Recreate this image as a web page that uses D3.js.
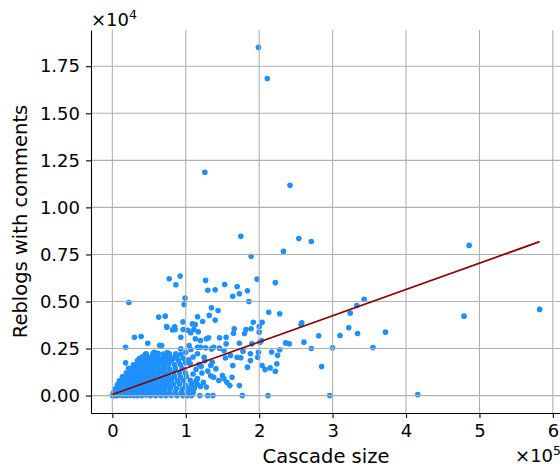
<!DOCTYPE html>
<html>
<head>
<meta charset="utf-8">
<script src="https://cdn.jsdelivr.net/npm/d3@7"></script>
<style>
  body { margin: 0; background: #fff; }
  svg { display: block; font-family: "DejaVu Sans", sans-serif; }
</style>
</head>
<body>
<svg id="chart"></svg>
<script>
// cascade size (x) and number of reblogs with comments (y), one entry per post
const cascadeSize = [
  0, 2500, 6000, 10000, 14000, 19000, 24000, 29000, 34000, 40000, 46000, 52000, 59000, 66000, 73000, 80000, 88000, 96000, 102000, 108000, 119000, 130000, 137000, 177000, 212000,
  1400, 5400, 10900, 16300, 21800, 27200, 32700, 38100, 43500, 50300, 57100, 63900, 70700, 77500, 85700, 93900, 102000, 110200,
  4100, 8200, 13600, 19000, 24500, 29900, 35400, 40800, 46300, 51700, 58500, 65300, 72100, 78900, 87100, 95200, 103400, 111600,
  6800, 12200, 17700, 23100, 28600, 34000, 39500, 44900, 50300, 55800, 62600, 69400, 76200, 83000, 91200, 99300, 107500, 115600,
  9500, 15000, 20400, 25800, 31300, 36700, 42200, 47600, 53100, 59900, 66700, 73500, 80300, 88400, 96600, 106100, 114300,
  13600, 19000, 24500, 29900, 35400, 40800, 46300, 51700, 57100, 63900, 70700, 77500, 84400, 92500, 100700,
  19000, 24500, 29900, 35400, 40800, 46300, 51700, 57100, 62600, 69400, 76200, 83000, 91200, 99300,
  24500, 29900, 35400, 40800, 46300, 51700, 57100, 63900, 70700, 77500, 85700, 95200,
  28600, 34000, 39500, 44900, 50300, 55800, 62600, 69400, 76200, 84400, 92500,
  34000, 39500, 44900, 51700, 58500, 65300, 72100, 80300, 89800,
  36700, 49000, 62600, 76200, 83000, 96600,
  40800, 47600, 54400, 61200, 69400, 77500, 87100,
  44900, 58500, 72100, 85700,
  57100, 74800, 55400, 62200, 69000, 64500,
  77500, 92300, 86500, 22500, 99000, 97700, 72000, 63100, 85500, 96400, 93200, 74300, 106700, 30100, 39200, 18000,
  48200, 67200, 93200, 104500, 120000, 77400, 86500, 93200, 18000, 22000, 45900, 73900, 82000, 84900, 96200, 103000,
  108000, 112000, 116000, 110000, 120000, 114000, 118000, 106000, 122000, 124000,
  104000, 110000, 100000, 107000, 126000, 130000, 128000, 134000, 121000, 100000,
  127000, 153000, 197000, 222000, 170000, 130000, 140000, 184000, 164000, 173000,
  186000, 213000, 228000, 135000, 144000, 132000, 140000, 123000, 116000, 109000,
  113000, 117000, 111000, 192000, 204000, 182000, 189000, 166000, 165000, 180000,
  200000, 200000, 131000, 128000, 146000, 155000, 173000, 190000, 155000, 201000,
  203000, 236000, 241000, 228000, 217000, 225000, 224000, 215000, 222000, 208000,
  204000, 198000, 199000, 188000, 188000, 178000, 175000, 184000, 164000, 170000,
  161000, 154000, 163000, 173000, 156000, 160000, 150000, 152000, 145000, 138000,
  141000, 134000, 136000, 125000, 116000, 152000, 135000, 127000, 116000, 138000,
  146000, 120000, 113000,
  199000, 211000, 126000, 242000, 175000, 189000, 254000, 271000, 233000, 486000, 479000, 582000, 416000, 296000, 343000,
  333000, 324000, 322000, 334000, 372000, 310000, 281000, 261000, 271000, 300000, 355000, 285000, 258000, 257000
]
const reblogsWithComments = [
  0, 0, 0, 20, 0, 0, 10, 0, 0, 0, 30, 0, 0, 0, 0, 10, 0, 0, 0, 0, 0, 0, 0, 0, 0,
  150, 180, 130, 170, 160, 190, 140, 175, 155, 165, 185, 150, 170, 145, 180, 160, 175, 190,
  360, 390, 350, 380, 400, 370, 355, 385, 365, 395, 345, 375, 390, 360, 380, 350, 370, 385,
  570, 600, 590, 560, 610, 580, 595, 570, 605, 585, 560, 600, 575, 590, 610, 565, 580, 600,
  790, 810, 780, 820, 800, 775, 815, 795, 805, 785, 820, 790, 810, 780, 800, 815, 795,
  1000, 1020, 990, 1030, 1010, 995, 1025, 1005, 1015, 990, 1030, 1000, 1020, 995, 1010,
  1210, 1240, 1220, 1200, 1235, 1215, 1245, 1225, 1205, 1230, 1215, 1240, 1220, 1210,
  1430, 1450, 1420, 1440, 1460, 1425, 1445, 1430, 1455, 1420, 1440, 1450,
  1640, 1660, 1630, 1655, 1645, 1670, 1635, 1650, 1665, 1640, 1655,
  1850, 1870, 1860, 1880, 1845, 1865, 1875, 1850, 1870,
  1970, 1960, 1985, 1975, 1965, 1980,
  2060, 2080, 2070, 2090, 2065, 2085, 2075,
  2180, 2170, 2190, 2160,
  2300, 2290, 2230, 2250, 2210, 2675,
  6210, 6350, 5890, 4950, 5180, 4840, 4220, 4170, 3510, 3510, 3100, 3630, 3340, 3100, 3140, 2570,
  2780, 2660, 2480, 2660, 2570, 2220, 2220, 2180, 1740, 1450, 2220, 3670, 3490, 3650, 3915, 3470,
  300, 620, 900, 1150, 480, 1400, 1650, 1700, 1200, 700,
  1900, 2050, 2300, 2450, 1850, 1300, 450, 1050, 1550, 1750,
  6120, 5900, 6190, 6000, 5800, 5600, 5620, 5570, 5280, 5410,
  5000, 4430, 4350, 4670, 4520, 4260, 4010, 3940, 4190, 3810,
  3780, 3390, 3510, 3900, 3900, 3510, 3550, 3550, 3310, 3300,
  3670, 3370, 3070, 3020, 3070, 3100, 2780, 2750, 2750, 2840,
  2930, 2800, 2750, 2430, 2320, 2140, 1690, 1470, 1290, 1380,
  1600, 2040, 2300, 1860, 2220, 2360, 2010, 1510, 1600, 2040,
  2130, 2000, 975, 530, 710, 530, 1060, 890, 800, 975,
  1420, 1600, 1770, 2040, 2220, 2390, 2480, 2540, 2570, 2570,
  2520, 2930, 3020,
  18500, 16850, 11870, 11170, 8460, 7400, 8350, 8190, 7660, 7980, 4220, 4580, 50, 0, 5110,
  4790, 4380, 3600, 3300, 3370, 3190, 3180, 2840, 2500, 2540, 2550, 1540, 3870, 3780
]

// least squares fit as drawn in the figure
const fitSlope = 0.01395
const fitIntercept = 60

const xTicks = [0, 100000, 200000, 300000, 400000, 500000, 600000]
const yTicks = [0, 2500, 5000, 7500, 10000, 12500, 15000, 17500]

const width = 560, height = 472
const plot = {left: 91, right: 561, top: 30, bottom: 413}

const points = d3.zip(cascadeSize, reblogsWithComments)

// matplotlib style 5% margins
const xExt = d3.extent(cascadeSize), yExt = d3.extent(reblogsWithComments)
const xPad = (xExt[1] - xExt[0]) * 0.05, yPad = (yExt[1] - yExt[0]) * 0.05
const xScale = d3.scaleLinear().domain([xExt[0] - xPad, xExt[1] + xPad]).range([plot.left, plot.right])
const yScale = d3.scaleLinear().domain([yExt[0] - yPad, yExt[1] + yPad]).range([plot.bottom, plot.top])

const svg = d3.select("#chart").attr("width", width).attr("height", height)

svg.append("clipPath").attr("id", "clip")
  .append("rect").attr("x", plot.left).attr("y", plot.top)
  .attr("width", plot.right - plot.left).attr("height", plot.bottom - plot.top)

// scatter
svg.append("g").attr("clip-path", "url(#clip)")
  .selectAll("circle")
  .data(points)
  .join("circle")
  .attr("cx", d => xScale(d[0]))
  .attr("cy", d => yScale(d[1]))
  .attr("r", 2.8)
  .attr("fill", "#1e90ff")

// grid (drawn over the dots, like the original)
const grid = svg.append("g").attr("stroke", "#b0b0b0").attr("stroke-width", 1.1)
grid.selectAll(".vgrid").data(xTicks).join("line").attr("class", "vgrid")
  .attr("x1", d => xScale(d)).attr("x2", d => xScale(d))
  .attr("y1", plot.top).attr("y2", plot.bottom)
grid.selectAll(".hgrid").data(yTicks).join("line").attr("class", "hgrid")
  .attr("x1", plot.left).attr("x2", plot.right)
  .attr("y1", d => yScale(d)).attr("y2", d => yScale(d))

// regression line
const fitLine = d3.line().x(d => xScale(d)).y(d => yScale(fitIntercept + fitSlope * d))
svg.append("path")
  .attr("d", fitLine(xExt))
  .attr("fill", "none")
  .attr("stroke", "#8b0000")
  .attr("stroke-width", 1.7)

// axes
const xAxis = svg.append("g").attr("transform", `translate(0, ${plot.bottom})`)
  .call(d3.axisBottom(xScale).tickValues(xTicks).tickSize(5).tickSizeOuter(0).tickPadding(6)
    .tickFormat(d => d / 100000))
const yAxis = svg.append("g").attr("transform", `translate(${plot.left}, 0)`)
  .call(d3.axisLeft(yScale).tickValues(yTicks).tickSize(5).tickSizeOuter(0).tickPadding(6)
    .tickFormat(d => (d / 10000).toFixed(2)))
svg.selectAll(".tick text").attr("font-size", 18).attr("font-family", "DejaVu Sans").attr("fill", "#000")
svg.selectAll(".tick line").attr("stroke", "#000").attr("stroke-width", 1.1)
svg.selectAll(".domain").attr("stroke", "#000").attr("stroke-width", 1.1)

// offset texts
const yOffsetText = svg.append("text").attr("x", plot.left).attr("y", 26).attr("font-size", 18).text("×10")
yOffsetText.append("tspan").attr("dy", -7).attr("font-size", 12.5).text("4")
const xOffsetText = svg.append("text").attr("x", plot.right).attr("y", 462).attr("text-anchor", "end")
  .attr("font-size", 18).text("×10")
xOffsetText.append("tspan").attr("dy", -7).attr("font-size", 12.5).text("5")

// axis labels
svg.append("text").attr("x", (plot.left + plot.right) / 2).attr("y", 463)
  .attr("text-anchor", "middle").attr("font-size", 19.5).text("Cascade size")
svg.append("text")
  .attr("transform", `translate(27, ${(plot.top + plot.bottom) / 2}) rotate(-90)`)
  .attr("text-anchor", "middle").attr("font-size", 19.5).text("Reblogs with comments")
</script>
</body>
</html>
